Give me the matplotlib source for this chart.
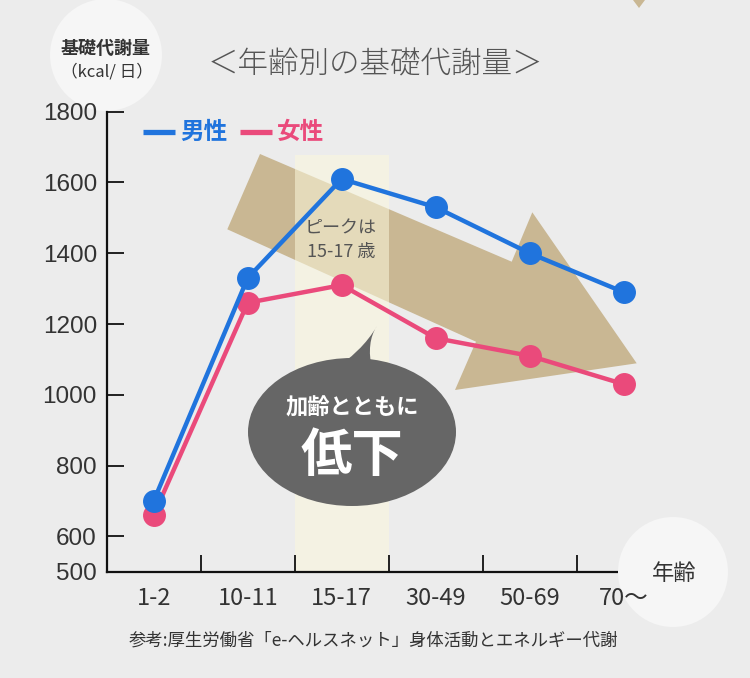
import matplotlib
matplotlib.use('Agg')
import matplotlib.pyplot as plt
from matplotlib.patches import Polygon, Circle, Ellipse, Rectangle, PathPatch
from matplotlib.path import Path
from matplotlib.lines import Line2D
from matplotlib.transforms import Affine2D

# ---------------- data ----------------
categories = ["1-2", "10-11", "15-17", "30-49", "50-69", "70～"]
male = [700, 1330, 1610, 1530, 1400, 1290]
female = [660, 1260, 1310, 1160, 1110, 1030]
yticks = [500, 600, 800, 1000, 1200, 1400, 1600, 1800]
peak_index = 2
peak_top = 1678

BLUE = '#2074dd'
PINK = '#ea4a7b'
TAN = '#c9b793'
DARK = '#333333'

W, H = 750, 678
plt.rcParams['font.family'] = ['Noto Sans CJK JP', 'DejaVu Sans']
fig = plt.figure(figsize=(W / 100, H / 100), dpi=100)
fig.patch.set_facecolor('#ececec')
# pixel-coordinate transform (origin top-left) for decorations
T = Affine2D().scale(1 / W, -1 / H).translate(0, 1) + fig.transFigure

ax = fig.add_axes([106.7 / W, 1 - 571.7 / H, 564 / W, 460 / H])
ax.set_facecolor('none')
x = list(range(len(categories)))

# decorative big arrow (behind everything)
arrow_pts = [(260, 154), (511.7, 261.7), (532.3, 212.3), (636.7, 363.3),
             (455, 390), (476, 341.7), (227.3, 229.3)]
ax.add_patch(Polygon(arrow_pts, closed=True, transform=T, fc=TAN, ec='none',
                     zorder=1, clip_on=False))
fig.add_artist(Polygon([(633, 0), (645, 0), (639, 8)], closed=True, transform=T,
                       fc=TAN, ec='none', zorder=1))

# highlight band for peak
ax.add_patch(Rectangle((peak_index - 0.5, 500), 1, peak_top - 500,
                       fc='#fbf8dc', ec='none', alpha=0.55, zorder=1.5))

# top-left circle
ax.add_patch(Circle((106, 55), 56, transform=T, fc='#f6f6f6', ec='none',
                    zorder=0.5, clip_on=False))
# bottom-right circle
ax.add_patch(Circle((673, 572), 55, transform=T, fc='#f6f6f6', ec='none',
                    zorder=5, clip_on=False))

# lines
ax.plot(x, female, color=PINK, lw=3.2, marker='o', ms=15.5, zorder=3,
        clip_on=False)
ax.plot(x, male, color=BLUE, lw=3.2, marker='o', ms=15.5, zorder=3.1,
        clip_on=False)

# speech bubble
ax.add_patch(Ellipse((352, 432), 208, 148, transform=T, fc='#666666',
                     ec='none', zorder=4, clip_on=False))
tail = Path([(330, 372), (362, 352), (377, 326), (366, 342), (372, 370), (330, 372)],
            [Path.MOVETO, Path.CURVE3, Path.CURVE3, Path.CURVE3, Path.CURVE3,
             Path.CLOSEPOLY])
ax.add_patch(PathPatch(tail, transform=T, fc='#666666', ec='none', zorder=4,
                       clip_on=False))

# axes styling
ax.set_xlim(-0.5, len(categories) - 0.5)
ax.set_ylim(500, 1800)
for s in ['top', 'right']:
    ax.spines[s].set_visible(False)
for s in ['left', 'bottom']:
    ax.spines[s].set_linewidth(1.6)
    ax.spines[s].set_color('#111111')
ax.set_yticks(yticks)
ax.set_yticklabels([str(v) for v in yticks], fontfamily='Liberation Sans',
                   fontsize=17.5, color=DARK)
ax.tick_params(axis='y', direction='in', length=12, width=1.3, pad=7,
               color='#111111')
ax.set_xticks(x)
ax.set_xticklabels(categories, fontsize=17, color=DARK)
ax.tick_params(axis='x', which='major', length=0, pad=11)
ax.set_xticks([i + 0.5 for i in x[:-1]], minor=True)
ax.tick_params(axis='x', which='minor', direction='in', length=12, width=1.3,
               color='#111111')
ax.xaxis.set_zorder(6)

# texts
fig.text(375, 64, '＜年齢別の基礎代謝量＞', transform=T, ha='center',
         va='center', fontsize=22, color='#555555', fontweight='light')
fig.text(106, 49, '基礎代謝量', transform=T, ha='center', va='center',
         fontsize=13, color=DARK, fontweight='bold')
fig.text(107, 72, '（kcal/ 日）', transform=T, ha='center', va='center',
         fontsize=12, color=DARK)

fig.add_artist(Line2D([143, 175], [132, 132], transform=T, color=BLUE, lw=3.8,
                      solid_capstyle='butt'))
fig.text(180, 132, '男性', transform=T, ha='left', va='center', fontsize=17,
         color=BLUE, fontweight='bold')
fig.add_artist(Line2D([240, 272], [132, 132], transform=T, color=PINK, lw=3.8,
                      solid_capstyle='butt'))
fig.text(277, 132, '女性', transform=T, ha='left', va='center', fontsize=17,
         color=PINK, fontweight='bold')

fig.text(341, 228, 'ピークは', transform=T, ha='center', va='center',
         fontsize=13, color='#555555', zorder=5)
fig.text(341, 252, '15-17 歳', transform=T, ha='center', va='center',
         fontsize=13, color='#555555', zorder=5)

fig.text(352, 408, '加齢とともに', transform=T, ha='center', va='center',
         fontsize=16, color='white', fontweight='bold', zorder=6)
fig.text(352, 456, '低下', transform=T, ha='center', va='center',
         fontsize=37, color='white', fontweight='bold', zorder=6)

fig.text(674, 574, '年齢', transform=T, ha='center', va='center',
         fontsize=16, color=DARK, zorder=7)

fig.text(373, 641, '参考:厚生労働省「e-ヘルスネット」身体活動とエネルギー代謝',
         transform=T, ha='center', va='center', fontsize=12.5, color=DARK)

fig.savefig('out.png', dpi=100, facecolor=fig.get_facecolor())
